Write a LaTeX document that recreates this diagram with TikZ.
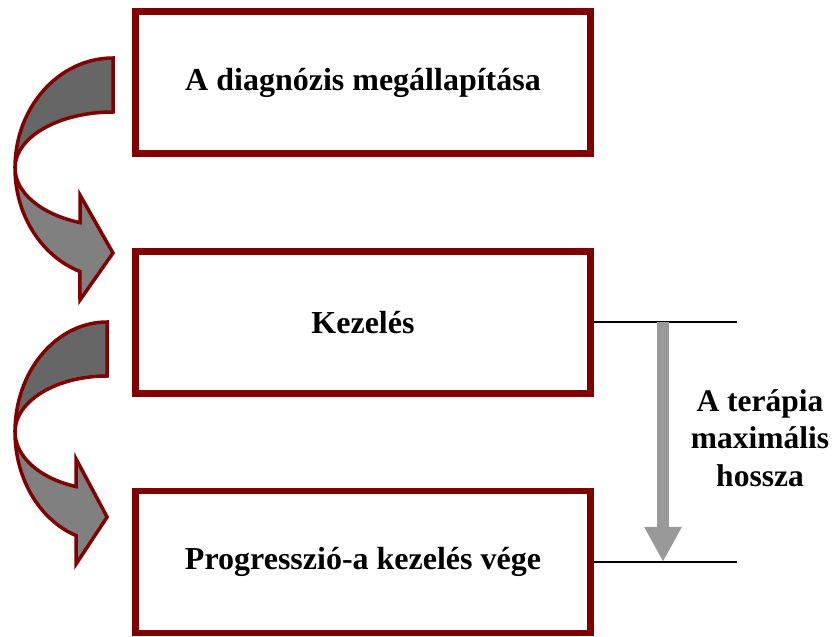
\documentclass[tikz,border=0pt]{standalone}
\usepackage{fontspec}
\setmainfont{Liberation Serif}
\usetikzlibrary{positioning,arrows.meta}
\definecolor{boxred}{HTML}{800000}
\definecolor{backgray}{HTML}{666666}
\definecolor{frontgray}{HTML}{808080}
\definecolor{lengray}{HTML}{999999}
\begin{document}
\begin{tikzpicture}[x=1pt,y=-1pt,
    stagebox/.style={draw=boxred, line width=6.7pt, fill=white,
        minimum width=455pt, minimum height=142pt,
        font=\fontsize{32}{38}\selectfont\bfseries},
    bandback/.style={fill=backgray, draw=boxred, line width=3.5pt},
    bandfront/.style={fill=frontgray, draw=boxred, line width=3.5pt},
    rimline/.style={draw=black, line width=1.6pt},
    lenarrow/.style={draw=lengray, line width=12pt, -{Triangle[width=35pt,length=35pt]}},
    lenlabel/.style={align=center, font=\fontsize{31.5}{37.5}\selectfont\bfseries},
    node distance=91pt]
    \useasboundingbox (0,0) rectangle (833,637);

    % the three stages
    \node[stagebox] (diag) at (363,82.5) {A diagnózis megállapítása};
    \node[stagebox, below=of diag] (kez) {Kezelés};
    \node[stagebox, below=of kez] (prog) {Progresszió-a kezelés vége};

    % bent arrows on the left
    \begin{scope}[shift={(15,0)}]
        \path[bandback] (98,58) arc[start angle=270, end angle=180, x radius=98, y radius=110]
            arc[start angle=180, end angle=270, x radius=98, y radius=56] -- cycle;
        \path[bandfront] (0,168) arc[start angle=180, end angle=109.7, x radius=98, y radius=110]
            -- (65,300) -- (98,253) -- (65,195) -- (65,222.6)
            arc[start angle=109.7, end angle=180, x radius=98, y radius=58] -- cycle;
    \end{scope}
    \begin{scope}[shift={(15,264)}, xscale=0.94]
        \path[bandback] (98,58) arc[start angle=270, end angle=180, x radius=98, y radius=110]
            arc[start angle=180, end angle=270, x radius=98, y radius=56] -- cycle;
        \path[bandfront] (0,168) arc[start angle=180, end angle=109.7, x radius=98, y radius=110]
            -- (65,300) -- (98,253) -- (65,195) -- (65,222.6)
            arc[start angle=109.7, end angle=180, x radius=98, y radius=58] -- cycle;
    \end{scope}

    % length of the therapy
    \coordinate (rimX) at (737,0);
    \coordinate (arrX) at (663,0);
    \draw[rimline] (kez.east) -- (kez.east -| rimX);
    \draw[rimline] (prog.east) -- (prog.east -| rimX);
    \draw[lenarrow] (kez.east -| arrX) -- (prog.east -| arrX);
    \node[lenlabel] (lenTxt) at (760,438) {A terápia\\maximális\\hossza};
\end{tikzpicture}
\end{document}
